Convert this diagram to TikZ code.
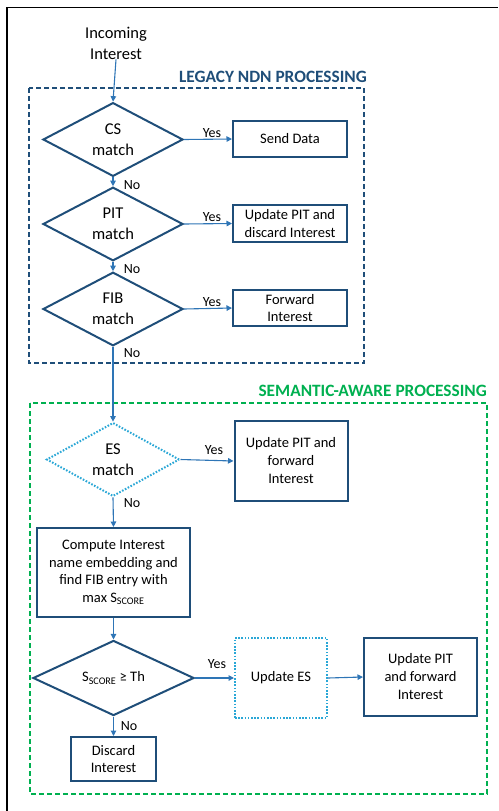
\documentclass[tikz,border=0pt]{standalone}
\usepackage{fontspec}
\setmainfont{Carlito}
\usetikzlibrary{shapes.geometric,arrows.meta}
\definecolor{boxblue}{HTML}{1F4E79}
\definecolor{arrblue}{HTML}{2E75B6}
\definecolor{dotblue}{HTML}{2AA7D6}
\definecolor{grn}{HTML}{00B050}
\tikzset{
  every node/.style={font=\fontsize{14.5}{17.5}\selectfont, align=center, inner sep=0pt},
  dec/.style={diamond, draw=boxblue, line width=2pt, font=\fontsize{16.5}{21}\selectfont},
  decdot/.style={diamond, draw=dotblue, line width=2pt, dash pattern=on 1.6pt off 1.6pt, font=\fontsize{16.5}{21}\selectfont},
  procbox/.style={rectangle, draw=boxblue, line width=2pt},
  procdot/.style={rectangle, draw=dotblue, line width=2pt, dash pattern=on 1.6pt off 1.6pt},
  flow/.style={draw=arrblue, line width=1.1pt, -{Triangle[length=5.5pt,width=5.5pt]}},
  lbl/.style={font=\fontsize{14}{17}\selectfont},
  title/.style={font=\bfseries\fontsize{17.3}{20}\selectfont},
}
\begin{document}
\begin{tikzpicture}[x=1pt,y=-1pt]
\useasboundingbox (0,0) rectangle (498,811);
% frame
\draw[line width=1.6pt] (7,811) -- (7,7.5) -- (498,7.5);
% group boxes
\draw[boxblue, line width=1.8pt, dash pattern=on 5pt off 3pt] (29,88) rectangle (364,363);
\node[title, text=boxblue, anchor=east] (legt) at (367,77) {LEGACY NDN PROCESSING};
\draw[grn, line width=1.8pt, dash pattern=on 5pt off 3pt] (30,403) rectangle (487,794);
\node[title, text=grn, anchor=east] (semt) at (487,391) {SEMANTIC-AWARE PROCESSING};
% nodes
\node[font=\fontsize{16.5}{21}\selectfont] (inc) at (116,43) {Incoming\\Interest};
\node[dec, minimum width=140pt, minimum height=65pt] (cs) at (113,139.5) {CS\\match};
\node[procbox, minimum width=114pt, minimum height=36pt] (send) at (290,139) {Send Data};
\node[dec, minimum width=140pt, minimum height=64pt] (pit) at (113,224) {PIT\\match};
\node[procbox, minimum width=114pt, minimum height=37pt] (upd) at (290,223.5) {Update PIT and\\discard Interest};
\node[dec, minimum width=140pt, minimum height=64pt] (fib) at (113,309) {FIB\\match};
\node[procbox, minimum width=114pt, minimum height=36pt] (fwd) at (290,308) {Forward\\Interest};
\node[decdot, minimum width=133pt, minimum height=73pt] (es) at (113,459.5) {ES\\match};
\node[procbox, minimum width=113pt, minimum height=80pt, font=\fontsize{14.5}{18}\selectfont] (upf) at (291,461) {Update PIT and\\forward\\Interest};
\node[procbox, minimum width=153pt, minimum height=89pt] (comp) at (113.5,572.5) {Compute Interest\\name embedding and\\find FIB entry with\\max S\textsubscript{SCORE}};
\node[dec, minimum width=161pt, minimum height=68pt, font=\fontsize{14.5}{17.5}\selectfont] (sc) at (113.5,678) {S\textsubscript{SCORE} ≥ Th};
\node[procdot, minimum width=92pt, minimum height=80pt] (ues) at (281,678) {Update ES};
\node[procbox, minimum width=113pt, minimum height=78pt, font=\fontsize{14.5}{18}\selectfont] (upf2) at (420.5,677) {Update PIT\\and forward\\Interest};
\node[procbox, minimum width=85pt, minimum height=44pt] (disc) at (113.5,759) {Discard\\Interest};
% connectors
\draw[flow] (inc.south) -- (cs.north);
\draw[flow] (cs.south) -- (pit.north);
\draw[flow] (pit.south) -- (fib.north);
\draw[flow] (fib.south) -- (es.north);
\draw[flow] (es.south) -- (comp.north);
\draw[flow] (comp.south) -- (sc.north);
\draw[flow] (sc.south) -- (disc.north);
\draw[flow] (cs.east) -- (send.west);
\draw[flow] (pit.east) -- (upd.west);
\draw[flow] (fib.east) -- (fwd.west);
\draw[flow] (es.east) -- (upf.west);
\draw[flow] (sc.east) -- (ues.west);
\draw[flow] (ues.east) -- (upf2.west);
% labels
\node[lbl] (y1) at (212,133) {Yes};
\node[lbl] (y2) at (212,217) {Yes};
\node[lbl] (y3) at (212,302) {Yes};
\node[lbl] (y4) at (214,450) {Yes};
\node[lbl] (y5) at (217,664) {Yes};
\node[lbl] (n1) at (132,185) {No};
\node[lbl] (n2) at (132,269) {No};
\node[lbl] (n3) at (132,353) {No};
\node[lbl] (n4) at (132,503) {No};
\node[lbl] (n5) at (129,726) {No};
\end{tikzpicture}
\end{document}
